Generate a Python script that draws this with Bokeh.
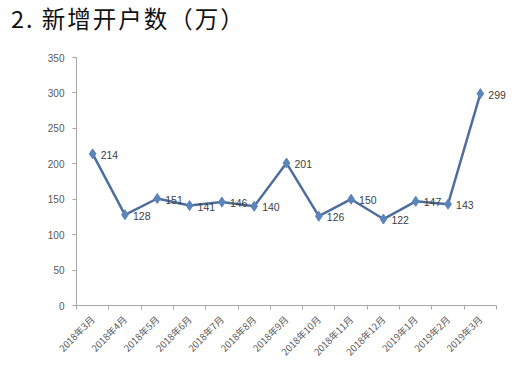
from bokeh.plotting import figure
from bokeh.models import FixedTicker, ColumnDataSource, Range1d, Div
from bokeh.layouts import column
from bokeh.embed import file_html
from bokeh.resources import INLINE
from bokeh.core.properties import value
import math

months = ["2018年3月", "2018年4月", "2018年5月", "2018年6月", "2018年7月", "2018年8月",
          "2018年9月", "2018年10月", "2018年11月", "2018年12月", "2019年1月", "2019年2月", "2019年3月"]
accounts = [214, 128, 151, 141, 146, 140, 201, 126, 150, 122, 147, 143, 299]
y_ticks = [0, 50, 100, 150, 200, 250, 300, 350]
title_text = "2. 新增开户数（万）"

n = len(months)
xs = [i + 0.5 for i in range(n)]
src = ColumnDataSource(dict(x=xs, y=accounts, lab=[str(v) for v in accounts]))

title = Div(text=title_text, width=504, height=36, margin=(0, 0, 0, 0),
            styles={"font-family": "Noto Sans CJK SC", "font-size": "23.5px", "line-height": "36px",
                    "color": "#111111", "padding-left": "11px", "letter-spacing": "2px",
                    "white-space": "nowrap"})

p = figure(width=510, height=331, output_backend="svg", toolbar_location=None,
           x_range=Range1d(0, n * 434 / 420), y_range=Range1d(0, 350),
           min_border_left=76, min_border_right=0, min_border_top=21, min_border_bottom=62)
p.outline_line_color = None
p.xgrid.visible = False
p.ygrid.visible = False

p.line("x", "y", source=src, line_color="#4E6F9C", line_width=2.5)
p.scatter("x", "y", source=src, marker="diamond", size=10, fill_color="#5B84B8", line_color="#5B84B8")
p.text("x", "y", text="lab", source=src, x_offset=8, y_offset=1, text_baseline="middle",
       text_align="left", text_font=value("Liberation Sans"), text_font_size="10.5px", text_color="#404040")

ax = p.xaxis[0]
ax.bounds = (0, n)
ax.ticker = FixedTicker(ticks=xs, minor_ticks=list(range(n + 1)))
ax.major_label_overrides = {x: m for x, m in zip(xs, months)}
ax.major_label_orientation = math.pi / 4
ax.major_tick_out = 0
ax.major_tick_in = 0
ax.minor_tick_out = 4
ax.minor_tick_in = 0
ax.minor_tick_line_color = "#A6A6A6"
ax.axis_line_color = "#A6A6A6"
ax.major_label_text_font = "Noto Sans CJK SC"
ax.major_label_text_font_size = "9.5px"
ax.major_label_text_color = "#595959"
ax.major_label_standoff = 8

ay = p.yaxis[0]
ay.ticker = FixedTicker(ticks=y_ticks)
ay.minor_tick_line_color = None
ay.major_tick_out = 4
ay.major_tick_in = 0
ay.major_tick_line_color = "#A6A6A6"
ay.axis_line_color = "#A6A6A6"
ay.major_label_text_font = "Liberation Sans"
ay.major_label_text_font_size = "10px"
ay.major_label_text_color = "#595959"
ay.major_label_standoff = 8

layout = column(title, p, spacing=0)
open("out.html", "w").write(file_html(layout, INLINE))
